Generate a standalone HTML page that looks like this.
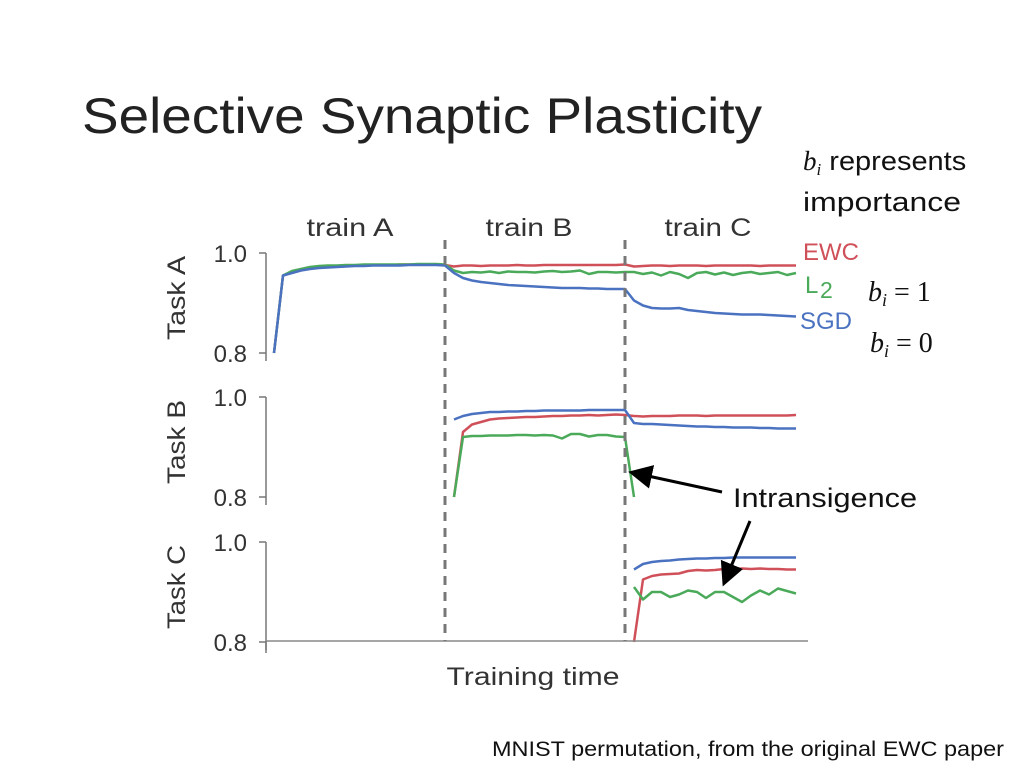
<!DOCTYPE html>
<html><head><meta charset="utf-8">
<style>
body{margin:0;width:1024px;height:768px;background:#fff;overflow:hidden;font-family:"Liberation Sans",sans-serif;}
svg{position:absolute;left:0;top:0}
</style></head>
<body>
<svg width="1024" height="768">
<text x="82" y="133" font-size="50" fill="#222" textLength="680" lengthAdjust="spacingAndGlyphs">Selective Synaptic Plasticity</text>
<text x="803" y="170" font-size="27" fill="#111"><tspan font-family="Liberation Serif" font-style="italic">b</tspan><tspan font-family="Liberation Serif" font-style="italic" font-size="17" dy="5">i</tspan><tspan dy="-5" textLength="145" lengthAdjust="spacingAndGlyphs"> represents</tspan></text>
<text x="803" y="211" font-size="27" fill="#111" textLength="158" lengthAdjust="spacingAndGlyphs">importance</text>
<text x="868" y="301" font-size="28" fill="#111" font-family="Liberation Serif"><tspan font-style="italic">b</tspan><tspan font-style="italic" font-size="18" dy="5">i</tspan><tspan dy="-5"> = 1</tspan></text>
<text x="870" y="352" font-size="28" fill="#111" font-family="Liberation Serif"><tspan font-style="italic">b</tspan><tspan font-style="italic" font-size="18" dy="5">i</tspan><tspan dy="-5"> = 0</tspan></text>
<text x="733" y="507" font-size="27" fill="#111" textLength="184" lengthAdjust="spacingAndGlyphs">Intransigence</text>
<text x="492" y="756" font-size="21" fill="#111" textLength="512" lengthAdjust="spacingAndGlyphs">MNIST permutation, from the original EWC paper</text>
<g id="chart"></g>
</svg>
<script>
const phases=["train A","train B","train C"];
const panels=["Task A","Task B","Task C"];
const ticks=["0.8","1.0"];
const methods=["EWC","L2","SGD"];
const colors={EWC:"#d0505a",L2:"#4aaa5a",SGD:"#4a72c0"};
const N=null;
const aEWC=[N,0.80,0.955,0.962,0.966,0.969,0.971,0.973,0.974,0.975,0.975,0.976,0.976,0.976,0.976,0.977,0.977,0.977,0.977,0.977,0.976,
0.973,0.975,0.975,0.974,0.975,0.975,0.975,0.976,0.975,0.975,0.976,0.976,0.976,0.976,0.976,0.976,0.976,0.976,0.976,0.977,
0.973,0.974,0.975,0.975,0.974,0.975,0.975,0.975,0.974,0.975,0.975,0.975,0.975,0.975,0.974,0.975,0.975,0.975,0.975];
const aL2=[N,0.80,0.955,0.964,0.968,0.972,0.974,0.975,0.975,0.976,0.976,0.977,0.977,0.977,0.977,0.977,0.977,0.978,0.978,0.978,0.977,
0.965,0.960,0.962,0.961,0.963,0.960,0.963,0.962,0.962,0.961,0.963,0.964,0.962,0.963,0.965,0.958,0.962,0.962,0.961,0.962,
0.962,0.958,0.961,0.955,0.962,0.958,0.950,0.960,0.962,0.957,0.961,0.956,0.960,0.962,0.958,0.960,0.962,0.956,0.960];
const aSGD=[N,0.80,0.955,0.960,0.965,0.968,0.970,0.971,0.972,0.973,0.974,0.974,0.975,0.975,0.975,0.975,0.976,0.976,0.976,0.976,0.975,
0.960,0.950,0.945,0.942,0.940,0.938,0.936,0.935,0.934,0.933,0.932,0.931,0.930,0.930,0.930,0.929,0.929,0.928,0.928,0.928,
0.905,0.895,0.890,0.889,0.889,0.890,0.886,0.884,0.882,0.880,0.879,0.878,0.877,0.877,0.877,0.876,0.875,0.874,0.873];
const bEWC=[N,N,N,N,N,N,N,N,N,N,N,N,N,N,N,N,N,N,N,N,N,
0.80,0.930,0.945,0.950,0.955,0.957,0.958,0.959,0.960,0.960,0.961,0.962,0.962,0.963,0.963,0.964,0.963,0.964,0.965,0.964,
0.962,0.961,0.962,0.962,0.962,0.963,0.963,0.963,0.962,0.963,0.963,0.963,0.963,0.963,0.963,0.963,0.963,0.963,0.964];
const bL2=[N,N,N,N,N,N,N,N,N,N,N,N,N,N,N,N,N,N,N,N,N,
0.80,0.920,0.922,0.922,0.923,0.923,0.923,0.924,0.924,0.923,0.924,0.923,0.917,0.926,0.926,0.921,0.924,0.924,0.921,0.920,0.80];
const bSGD=[N,N,N,N,N,N,N,N,N,N,N,N,N,N,N,N,N,N,N,N,N,
0.955,0.962,0.966,0.968,0.970,0.970,0.971,0.971,0.972,0.972,0.973,0.973,0.973,0.973,0.973,0.974,0.974,0.974,0.974,0.974,
0.948,0.946,0.946,0.945,0.944,0.943,0.942,0.941,0.941,0.940,0.940,0.939,0.939,0.939,0.938,0.938,0.937,0.937,0.937];
const cEWC=[N,N,N,N,N,N,N,N,N,N,N,N,N,N,N,N,N,N,N,N,N,N,N,N,N,N,N,N,N,N,N,N,N,N,N,N,N,N,N,N,N,
0.80,0.925,0.932,0.935,0.936,0.937,0.942,0.944,0.943,0.944,0.946,0.946,0.947,0.946,0.947,0.946,0.946,0.945,0.945];
const cL2=[N,N,N,N,N,N,N,N,N,N,N,N,N,N,N,N,N,N,N,N,N,N,N,N,N,N,N,N,N,N,N,N,N,N,N,N,N,N,N,N,N,
0.910,0.885,0.900,0.900,0.890,0.895,0.903,0.900,0.888,0.900,0.900,0.890,0.880,0.893,0.903,0.895,0.907,0.902,0.897];
const cSGD=[N,N,N,N,N,N,N,N,N,N,N,N,N,N,N,N,N,N,N,N,N,N,N,N,N,N,N,N,N,N,N,N,N,N,N,N,N,N,N,N,N,
0.945,0.956,0.960,0.962,0.963,0.965,0.966,0.967,0.967,0.968,0.968,0.969,0.969,0.969,0.969,0.969,0.969,0.969,0.969];
const seriesByPanel=[{EWC:aEWC,L2:aL2,SGD:aSGD},{EWC:bEWC,L2:bL2,SGD:bSGD},{EWC:cEWC,L2:cL2,SGD:cSGD}];
const boundaries=[20,40];

const NS="http://www.w3.org/2000/svg";
const g=document.getElementById("chart");
function mk(tag,attrs,parent){const e=document.createElementNS(NS,tag);for(const k in attrs)e.setAttribute(k,attrs[k]);(parent||g).appendChild(e);return e;}
const xS=t=>265+9*t;
const panelTop=[253,397,542];
const yS=(p,v)=>panelTop[p]+(1.0-v)/0.2*100;

phases.forEach((ph,i)=>{
  const t=mk("text",{x:[350,529,708][i],y:236,"font-size":25,fill:"#333","text-anchor":"middle",textLength:87,lengthAdjust:"spacingAndGlyphs"});
  
  
  t.textContent=ph;
});
panels.forEach((pn,p)=>{
  const ax=mk("line",{x1:266,x2:266,y1:yS(p,1.0),y2:yS(p,0.8)+8,stroke:"#777","stroke-width":1.5});
  
  
  ticks.forEach(tk=>{
    const y=yS(p,parseFloat(tk));
    const tl=mk("line",{x1:259,x2:266,y1:y,y2:y,stroke:"#777","stroke-width":1.5});
    
    
    const tt=mk("text",{x:247,y:y+9,"font-size":24,fill:"#333","text-anchor":"end"});
    
    
    tt.textContent=tk;
  });
  const cy=yS(p,0.9)-5;
  const lab=mk("text",{x:0,y:0,"font-size":25,fill:"#333","text-anchor":"middle",textLength:84,lengthAdjust:"spacingAndGlyphs",transform:`translate(185,${cy}) rotate(-90)`});
  
  
  lab.textContent=pn;
  methods.forEach(m=>{
    const arr=seriesByPanel[p][m];
    let d="",pen=false;
    arr.forEach((v,t)=>{ if(v===null){pen=false;return;} d+=(pen?"L":"M")+xS(t).toFixed(1)+","+yS(p,v).toFixed(1);pen=true;});
    const path=mk("path",{d:d,fill:"none",stroke:colors[m],"stroke-width":2.5,"stroke-linejoin":"round"});
    
    
  });
});
const xa=mk("line",{x1:266,x2:808,y1:641,y2:641,stroke:"#888","stroke-width":1.5});


const xt=mk("line",{x1:266,x2:266,y1:641,y2:653,stroke:"#777","stroke-width":1.5});


const xl=mk("text",{x:533,y:685,"font-size":25,fill:"#333","text-anchor":"middle",textLength:173,lengthAdjust:"spacingAndGlyphs"});


xl.textContent="Training time";
boundaries.forEach(b=>{
  const dl=mk("line",{x1:xS(b),x2:xS(b),y1:240,y2:641,stroke:"#777","stroke-width":3,"stroke-dasharray":"9,7"});
  
  
});
[["EWC",803,260,"#d0505a"],["L",805,293,"#4aaa5a"],["SGD",800,329,"#4a72c0"]].forEach(([t,x,y,c])=>{
  const e=mk("text",{x:x,y:y,"font-size":24,fill:c});
  
  
  e.textContent=t;
});
const sub=mk("text",{x:820,y:298,"font-size":23,fill:"#4aaa5a"});


sub.textContent="2";
const defs=mk("defs",{});
const mkr=mk("marker",{id:"ah",markerWidth:8,markerHeight:8,refX:6,refY:4,orient:"auto"},defs);
mk("path",{d:"M0,0L8,4L0,8z",fill:"#000"},mkr);
[[722,492,634,473],[750,521,725,581]].forEach(a=>{
  const l=mk("line",{x1:a[0],y1:a[1],x2:a[2],y2:a[3],stroke:"#000","stroke-width":3,"marker-end":"url(#ah)"});
  
  
});
</script>
</body></html>
